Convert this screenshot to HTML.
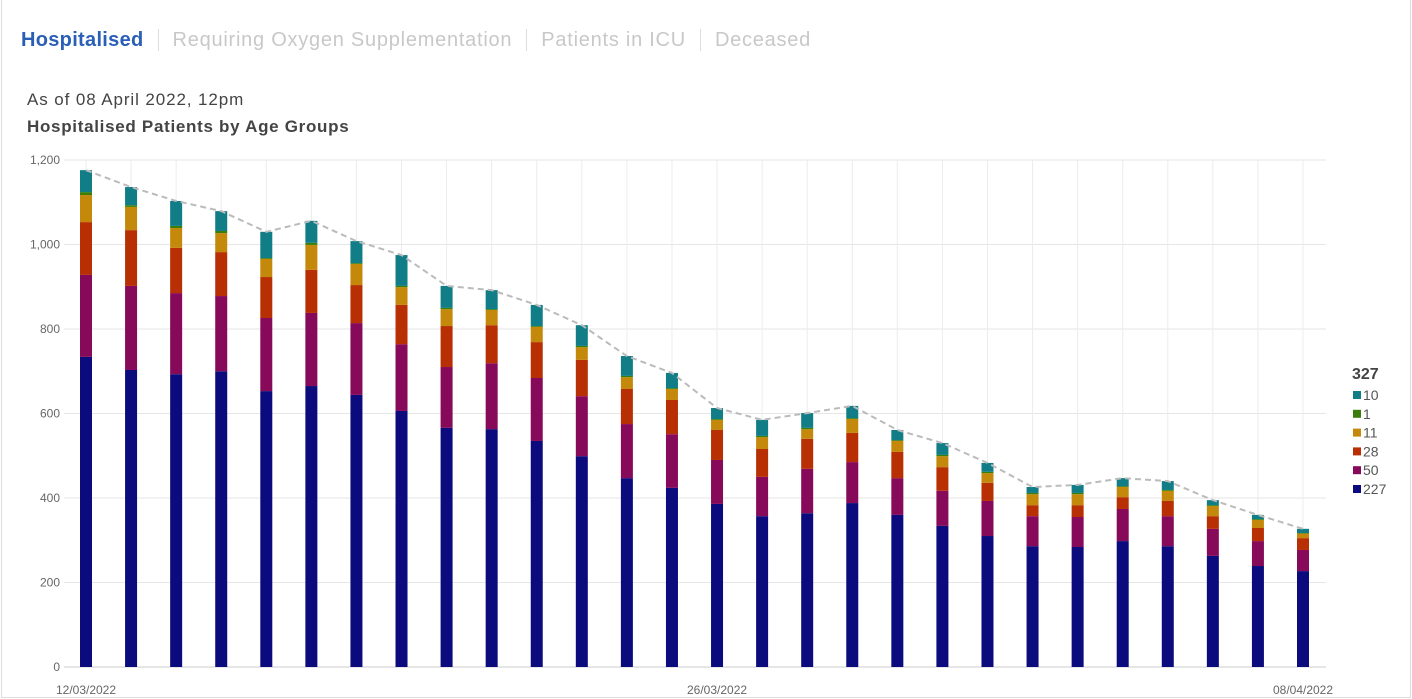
<!DOCTYPE html>
<html><head><meta charset="utf-8"><style>
body{margin:0;width:1412px;height:699px;background:#fff;font-family:"Liberation Sans",sans-serif;overflow:hidden;position:relative}
.card{position:absolute;left:1px;top:0;width:1408px;height:697px;border:1px solid #ddd;border-top:none}
.tabs{position:absolute;left:21px;top:29px;font-size:20px;color:#c8c8c8;white-space:nowrap;letter-spacing:0.75px}
.tabs span{padding:0 14px;border-left:1px solid #ddd}
.tabs span:first-child{padding-left:0;border:none;color:#2a5fb8;font-weight:bold;letter-spacing:0.3px}
.sub{position:absolute;left:27px;top:90px;font-size:17px;color:#444;letter-spacing:0.9px}
.ttl{position:absolute;left:27px;top:117px;font-size:17px;font-weight:bold;color:#444;letter-spacing:0.7px}
svg{position:absolute;left:0;top:0}
</style></head><body>
<div class="card"></div>
<div class="tabs"><span>Hospitalised</span><span>Requiring Oxygen Supplementation</span><span>Patients in ICU</span><span>Deceased</span></div>
<div class="sub">As of 08 April 2022, 12pm</div>
<div class="ttl">Hospitalised Patients by Age Groups</div>
<svg id="c" width="1412" height="699"></svg>
<script>
const dates=["12/03/2022","26/03/2022","08/04/2022"];
const dateIdx=[0,14,27];
const yTicks=[0,200,400,600,800,1000,1200];
const s227=[734,703,693,700,653,665,644,606,566,563,535,499,447,424,386,357,364,388,360,334,310,286,284,298,286,263,239,227];
const s50=[194,199,192,178,173,173,170,158,144,156,149,142,128,127,104,93,105,97,87,83,83,71,71,76,71,64,59,50];
const s28=[125,132,107,104,97,102,90,93,97,90,85,86,83,81,71,66,71,69,62,56,43,26,28,28,36,30,31,28];
const s11=[64,55,47,45,43,59,50,42,40,36,36,30,28,26,24,28,23,33,26,26,23,26,26,24,24,24,19,11];
const s1=[7,4,5,5,2,5,2,3,3,2,2,3,3,2,2,3,3,2,2,3,3,3,3,2,2,2,2,1];
const s10=[52,43,59,47,62,52,52,73,52,45,50,49,47,36,26,38,35,29,24,28,21,14,19,19,21,12,10,10];
const series=[s227,s50,s28,s11,s1,s10];
const colors=["#0b0b7d","#86095a","#b82f04","#c4880b","#3a7d0a","#107d87"];
const names=["227","50","28","11","1","10"];
const NS="http://www.w3.org/2000/svg",svg=document.getElementById('c');
const y=v=>667-v*507/1200, x=i=>86+i*(1303-86)/27;
function mk(t,a,p){const e=document.createElementNS(NS,t);for(const k in a)e.setAttribute(k,a[k]);(p||svg).appendChild(e);return e;}
yTicks.forEach(t=>{const l=mk('line',{x1:64,x2:1326,y1:y(t),y2:y(t),stroke:t?'#e6e6e6':'#ccc'});

const tx=mk('text',{x:60,y:y(t)+4,'text-anchor':'end','font-size':12,fill:'#666'});tx.textContent=t.toLocaleString('en');
});
const n=s227.length;
for(let i=0;i<n;i++){const g=mk('line',{x1:x(i),x2:x(i),y1:160,y2:667,stroke:'#ececec'});
}
const tot=[];
for(let i=0;i<n;i++){let acc=0;series.forEach((s,k)=>{const r=mk('rect',{x:x(i)-6,width:12,y:y(acc+s[i]),height:y(acc)-y(acc+s[i]),fill:colors[k]});
acc+=s[i];});tot.push(acc);}
const pl=mk('polyline',{points:tot.map((t,i)=>x(i)+','+y(t)).join(' '),fill:'none',stroke:'#bbb','stroke-width':2,'stroke-dasharray':'6,4'});

dates.forEach((d,j)=>{const t=mk('text',{x:x(dateIdx[j]),y:694,'text-anchor':'middle','font-size':12,fill:'#666'});t.textContent=d;
});
const lt=mk('text',{x:1352,y:379,'font-size':16,'font-weight':'bold',fill:'#444'});lt.textContent=tot[n-1];

for(let k=5;k>=0;k--){const yy=395+(5-k)*18.8;
const r=mk('rect',{x:1353,y:yy-4,width:8,height:8,fill:colors[k]});
const t=mk('text',{x:1363,y:yy+5,'font-size':14,fill:'#555'});t.textContent=series[k][n-1];
}
</script>
</body></html>
